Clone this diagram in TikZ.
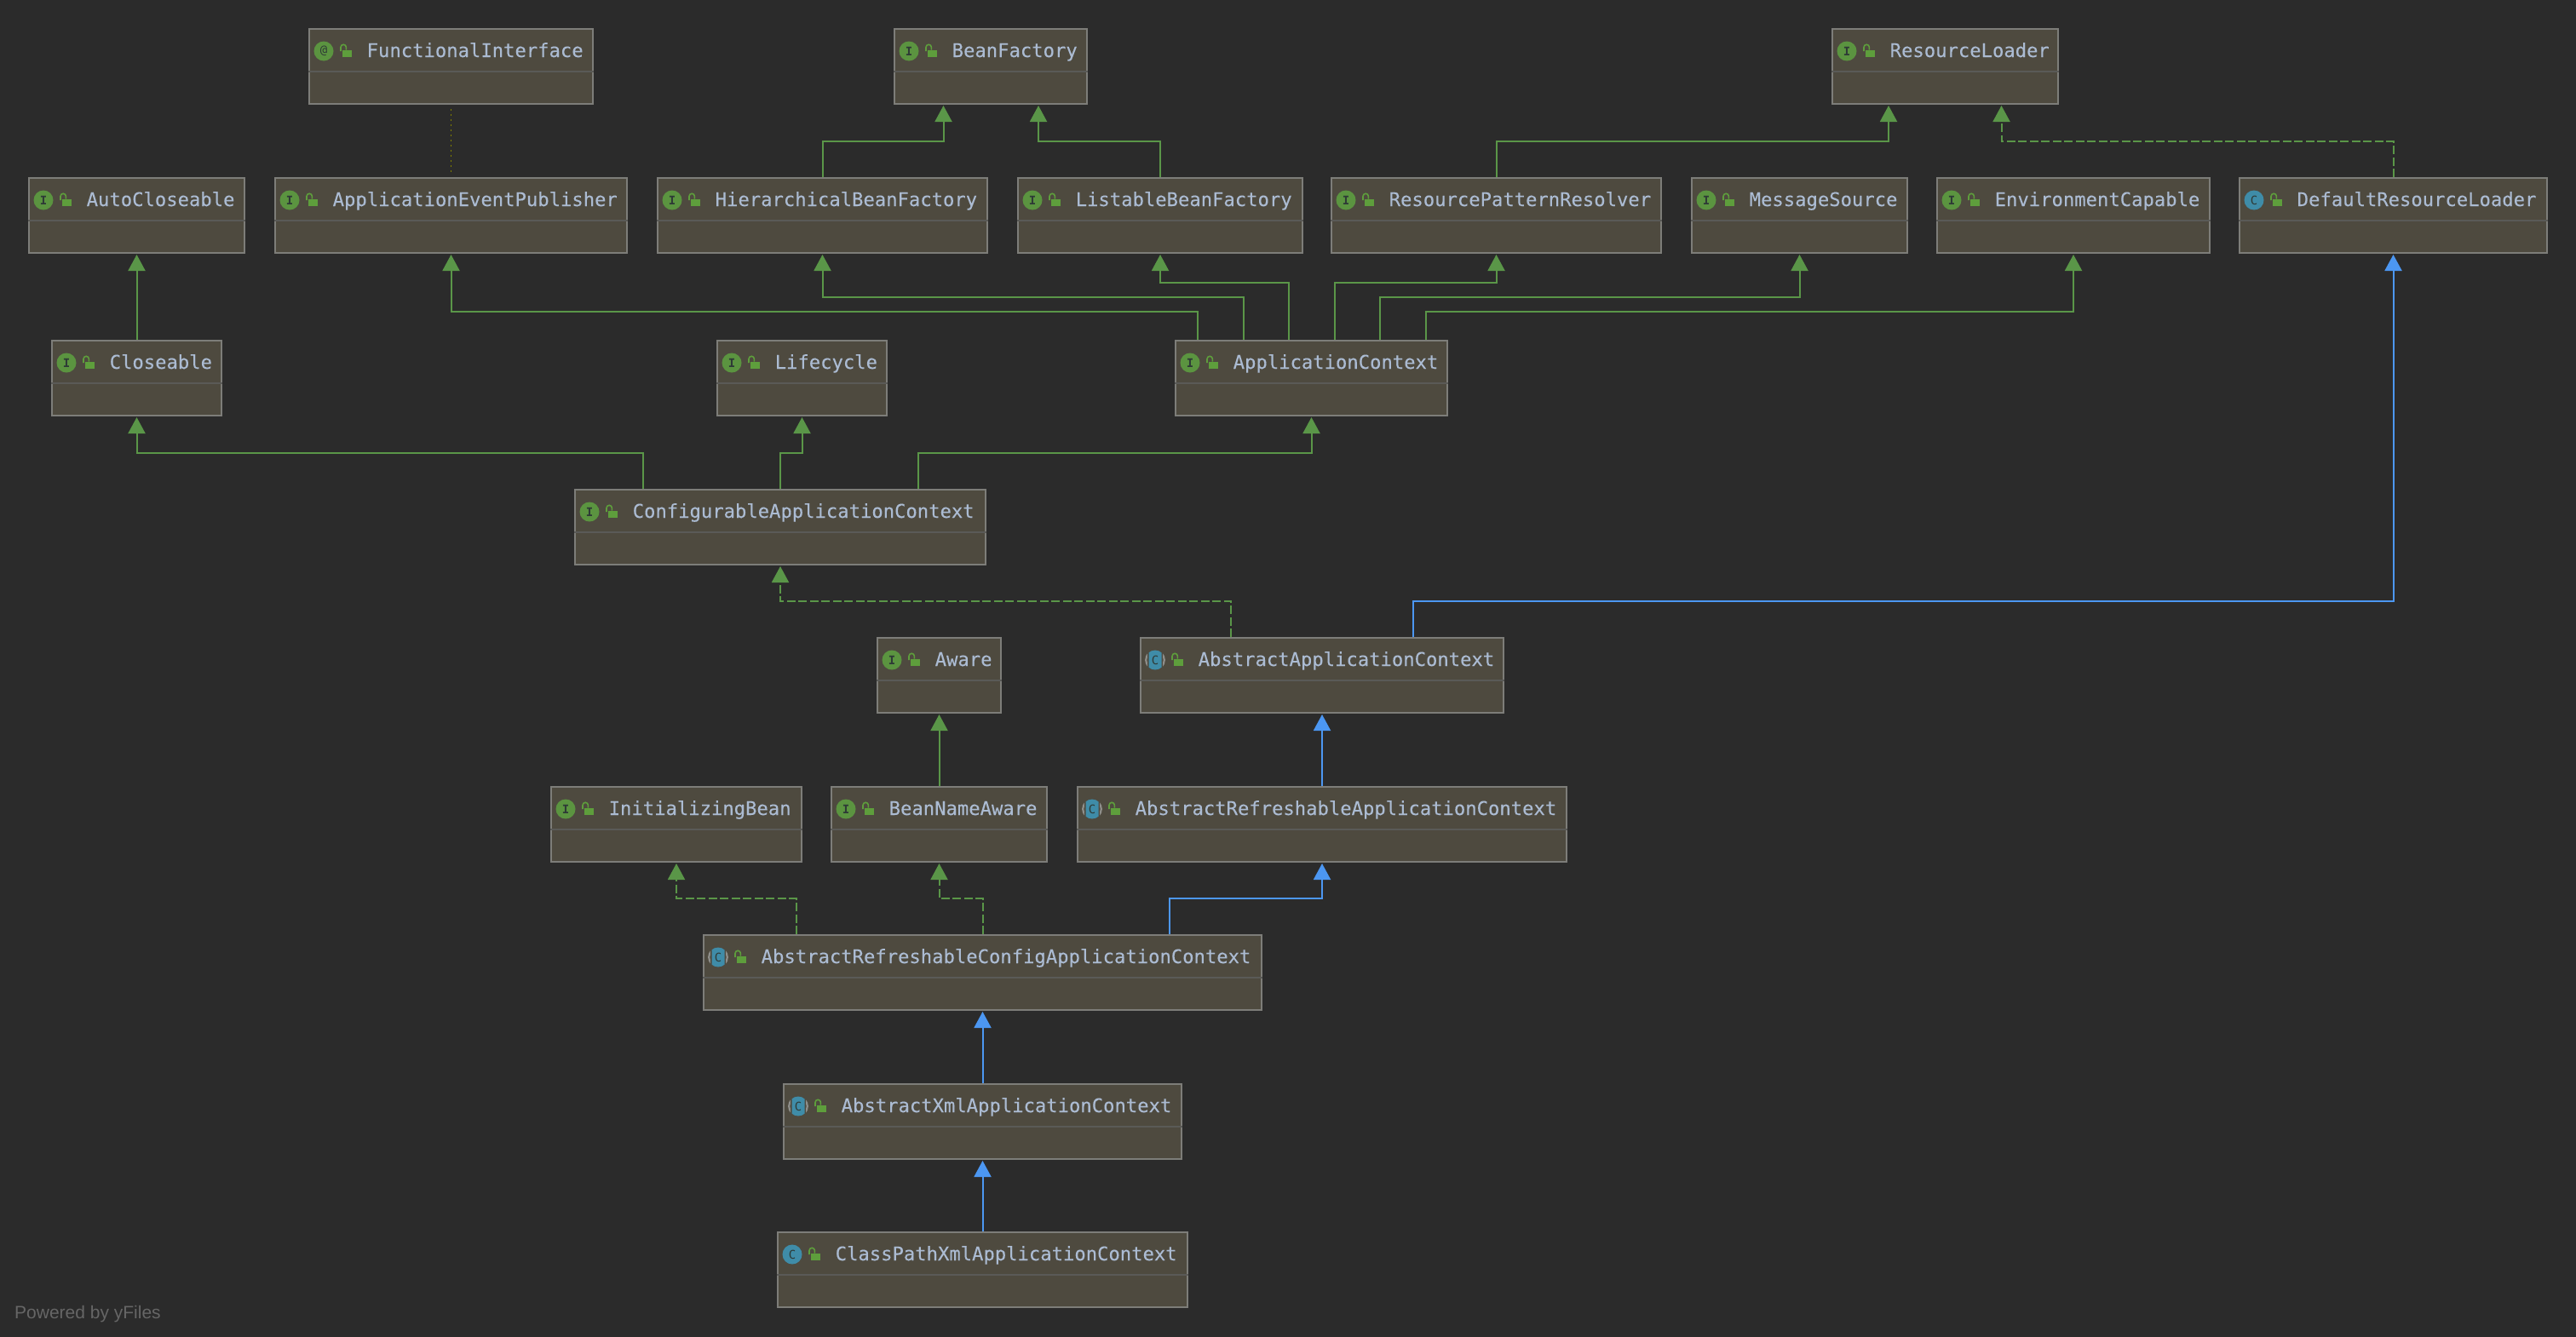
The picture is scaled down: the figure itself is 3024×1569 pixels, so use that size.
\documentclass[tikz,border=0pt]{standalone}
\usepackage{fontspec}
\setmonofont{DejaVu Sans Mono}[FakeBold=0.12]
\newfontfamily\iconfont{DejaVu Sans Mono}
\newfontfamily\footfont{Liberation Sans}
\usetikzlibrary{arrows.meta,calc}
\definecolor{bgc}{HTML}{2B2B2B}
\definecolor{boxc}{HTML}{4E4A3F}
\definecolor{edgec}{HTML}{7D7D79}
\definecolor{sepc}{HTML}{5A5A57}
\definecolor{textc}{HTML}{ABBBD2}
\definecolor{greenc}{HTML}{5A9648}
\definecolor{bluec}{HTML}{4C97F2}
\definecolor{iconb}{HTML}{3F8CA8}
\definecolor{icong}{HTML}{5B9440}
\definecolor{lockc}{HTML}{5E9E3C}
\definecolor{inkc}{HTML}{2E3A36}
\definecolor{ringc}{HTML}{8E8E8A}
\definecolor{oliv}{HTML}{808000}
\definecolor{footc}{HTML}{666666}
\tikzset{
  classbox/.style={draw=edgec,fill=boxc,line width=2pt,inner sep=0pt,outer sep=1pt,minimum height=88pt},
  sepline/.style={draw=sepc,line width=1.4pt},
  classtext/.style={text=textc,font=\ttfamily\fontsize{22.2}{26}\selectfont,anchor=base west,inner sep=0pt},
  iconletter/.style={text=inkc,font=\iconfont\fontsize{14}{14}\selectfont,inner sep=0pt},
  inh/.style={draw=greenc,line width=2pt,-{Triangle[width=20pt,length=19pt]},shorten >=1pt},
  impl/.style={inh,dash pattern=on 10pt off 3.5pt},
  ext/.style={draw=bluec,line width=2pt,-{Triangle[width=20pt,length=19pt]},shorten >=1pt},
  annot/.style={draw=oliv,line width=1.6pt,dash pattern=on 2pt off 4pt},
}
% #1 name, #2 left, #3 right, #4 top, #5 icon macro, #6 text
\newcommand{\classnode}[6]{%
  \pgfmathsetmacro{\cx}{(#2+#3)/2}%
  \pgfmathsetmacro{\cw}{#3-#2-2}%
  \pgfmathsetmacro{\cy}{#4+45}%
  \node[classbox,minimum width=\cw pt] (#1) at (\cx,\cy) {};
  \draw[sepline] ([yshift=-6pt]#1.west) -- ([yshift=-6pt]#1.east);
  #5{#1}
  \fill[lockc] ([shift={(40,25.5)}]#1.north west) rectangle ([shift={(51,34)}]#1.north west);
  \draw[lockc,line width=1.6pt] ([shift={(38,27)}]#1.north west) -- ++(0,-4.5) arc[start angle=180,end angle=0,radius=3.2pt] -- ++(0,3);
  \node[classtext] (#1-t) at ([shift={(68.5,34)}]#1.north west) {#6};
}
\newcommand{\iconI}[1]{%
  \fill[icong] ([shift={(18,27)}]#1.north west) circle[radius=11.5pt];
  \node[iconletter,font=\iconfont\bfseries\fontsize{14}{14}\selectfont] (#1-i) at ([shift={(18,27)}]#1.north west) {I};
}
\newcommand{\iconAt}[1]{%
  \fill[icong] ([shift={(18,27)}]#1.north west) circle[radius=11.5pt];
  \node[iconletter] (#1-i) at ([shift={(18,27)}]#1.north west) {@};
}
\newcommand{\iconC}[1]{%
  \fill[iconb] ([shift={(18,27)}]#1.north west) circle[radius=11.5pt];
  \node[iconletter] (#1-i) at ([shift={(18,27)}]#1.north west) {C};
}
\newcommand{\iconA}[1]{%
  \draw[ringc,line width=2.2pt] ([shift={(18,27)}]#1.north west) circle[radius=10.8pt];
  \fill[boxc] ([shift={(9,14)}]#1.north west) rectangle ([shift={(27,40)}]#1.north west);
  \begin{scope}
    \clip ([shift={(10.5,14)}]#1.north west) rectangle ([shift={(25.5,40)}]#1.north west);
    \fill[iconb] ([shift={(18,27)}]#1.north west) circle[radius=11.5pt];
  \end{scope}
  \node[iconletter] (#1-i) at ([shift={(18,27)}]#1.north west) {C};
}
\begin{document}
\begin{tikzpicture}[x=1pt,y=-1pt]
\useasboundingbox (0,0) rectangle (3024,1569);
\fill[bgc] (-3,-3) rectangle (3027,1572);

\classnode{fi}{362}{697}{33}{\iconAt}{FunctionalInterface}
\classnode{bf}{1049}{1277}{33}{\iconI}{BeanFactory}
\classnode{rl}{2150}{2417}{33}{\iconI}{ResourceLoader}

\classnode{acl}{33}{288}{208}{\iconI}{AutoCloseable}
\classnode{aep}{322}{737}{208}{\iconI}{ApplicationEventPublisher}
\classnode{hbf}{771}{1160}{208}{\iconI}{HierarchicalBeanFactory}
\classnode{lbf}{1194}{1530}{208}{\iconI}{ListableBeanFactory}
\classnode{rpr}{1562}{1951}{208}{\iconI}{ResourcePatternResolver}
\classnode{ms}{1985}{2240}{208}{\iconI}{MessageSource}
\classnode{ec}{2273}{2595}{208}{\iconI}{EnvironmentCapable}
\classnode{drl}{2628}{2991}{208}{\iconC}{DefaultResourceLoader}

\classnode{cl}{60}{261}{399}{\iconI}{Closeable}
\classnode{lc}{841}{1042}{399}{\iconI}{Lifecycle}
\classnode{ac}{1379}{1700}{399}{\iconI}{ApplicationContext}

\classnode{cac}{674}{1158}{574}{\iconI}{ConfigurableApplicationContext}

\classnode{aw}{1029}{1176}{748}{\iconI}{Aware}
\classnode{aac}{1338}{1766}{748}{\iconA}{AbstractApplicationContext}

\classnode{ib}{646}{942}{923}{\iconI}{InitializingBean}
\classnode{bna}{975}{1230}{923}{\iconI}{BeanNameAware}
\classnode{arac}{1264}{1840}{923}{\iconA}{AbstractRefreshableApplicationContext}

\classnode{arcac}{825}{1482}{1097}{\iconA}{AbstractRefreshableConfigApplicationContext}
\classnode{axac}{919}{1388}{1272}{\iconA}{AbstractXmlApplicationContext}
\classnode{cpac}{912}{1395}{1446}{\iconC}{ClassPathXmlApplicationContext}

% annotation
\draw[annot,shorten <=5pt,shorten >=3pt] (fi.south) -- (aep.north);

% top level
\draw[inh] (hbf.north) -- ++(0,-42) -| ([xshift=-55.5pt]bf.south);
\draw[inh] (lbf.north) -- ++(0,-42) -| ([xshift=56pt]bf.south);
\draw[inh] (rpr.north) -- ++(0,-42) -| ([xshift=-66.5pt]rl.south);
\draw[impl] (drl.north) -- ++(0,-42) -| ([xshift=66pt]rl.south);

% ApplicationContext
\draw[inh] ([xshift=-133.5pt]ac.north) -- ++(0,-33) -| (aep.south);
\draw[inh] ([xshift=-79.5pt]ac.north) -- ++(0,-50) -| (hbf.south);
\draw[inh] ([xshift=-26.5pt]ac.north) -- ++(0,-67) -| (lbf.south);
\draw[inh] ([xshift=27.5pt]ac.north) -- ++(0,-67) -| (rpr.south);
\draw[inh] ([xshift=80.5pt]ac.north) -- ++(0,-50) -| (ms.south);
\draw[inh] ([xshift=134.5pt]ac.north) -- ++(0,-33) -| (ec.south);

\draw[inh] (cl.north) -- (acl.south);

% Configurable
\draw[inh] ([xshift=-161.5pt]cac.north) -- ++(0,-42) -| (cl.south);
\draw[inh] (cac.north) -- ++(0,-42) -| (lc.south);
\draw[inh] ([xshift=161.5pt]cac.north) -- ++(0,-42) -| (ac.south);

% Abstract
\draw[impl] ([xshift=-107pt]aac.north) -- ++(0,-42) -| (cac.south);
\draw[ext] ([xshift=107pt]aac.north) -- ++(0,-42) -| (drl.south);

\draw[inh] (bna.north) -- (aw.south);
\draw[ext] (arac.north) -- (aac.south);

\draw[impl] ([xshift=-219pt]arcac.north) -- ++(0,-42) -| (ib.south);
\draw[impl] (arcac.north) -- ++(0,-42) -| (bna.south);
\draw[ext] ([xshift=219pt]arcac.north) -- ++(0,-42) -| (arac.south);

\draw[ext] (axac.north) -- (arcac.south);
\draw[ext] (cpac.north) -- (axac.south);

\node[text=footc,font=\footfont\fontsize{21}{24}\selectfont,anchor=base west,inner sep=0pt] (powered) at (17,1548) {Powered by yFiles};
\end{tikzpicture}
\end{document}
